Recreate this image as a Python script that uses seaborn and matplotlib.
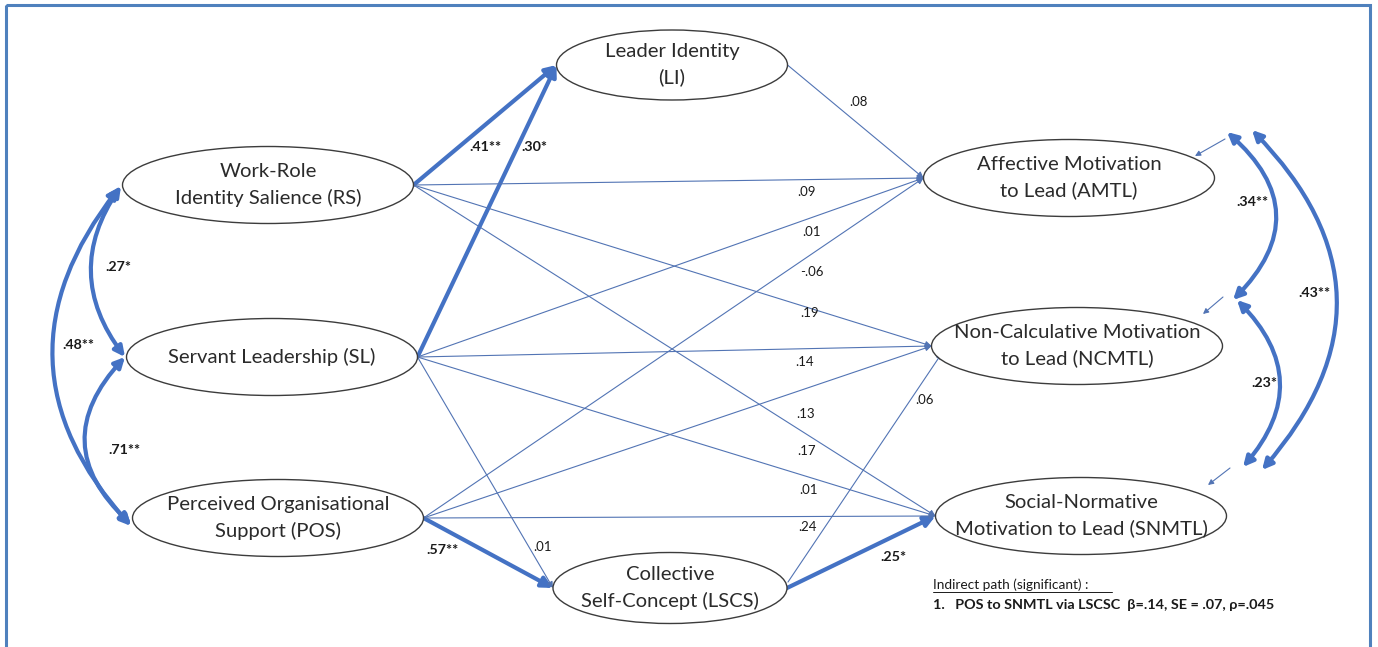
import matplotlib
matplotlib.use("Agg")
import matplotlib.pyplot as plt
from matplotlib.patches import Ellipse, FancyArrowPatch, Rectangle
import seaborn as sns

# model content
node_ids = ["RS", "SL", "POS", "LI", "LSCS", "AMTL", "NCMTL", "SNMTL"]
node_text = [
    "Work-Role\nIdentity Salience (RS)",
    "Servant Leadership (SL)",
    "Perceived Organisational\nSupport (POS)",
    "Leader Identity\n(LI)",
    "Collective\nSelf-Concept (LSCS)",
    "Affective Motivation\nto Lead (AMTL)",
    "Non-Calculative Motivation\nto Lead (NCMTL)",
    "Social-Normative\nMotivation to Lead (SNMTL)",
]

path_src = ["RS", "SL", "POS", "LSCS", "LI", "RS", "SL", "POS",
            "RS", "SL", "POS", "RS", "SL", "POS", "LSCS", "SL"]
path_dst = ["LI", "LI", "LSCS", "SNMTL", "AMTL", "AMTL", "AMTL", "AMTL",
            "NCMTL", "NCMTL", "NCMTL", "SNMTL", "SNMTL", "SNMTL", "NCMTL", "LSCS"]
path_coef = [".41**", ".30*", ".57**", ".25*", ".08", ".09", ".01", "-.06",
             ".19", ".14", ".13", ".17", ".01", ".24", ".06", ".01"]

cov_a = ["RS", "SL", "RS", "AMTL", "NCMTL", "AMTL"]
cov_b = ["SL", "POS", "POS", "NCMTL", "SNMTL", "SNMTL"]
cov_coef = [".27*", ".71**", ".48**", ".34**", ".23*", ".43**"]

note_title = "Indirect path (significant) :"
note_line = "1.   POS to SNMTL via LSCSC  β=.14, SE = .07, ρ=.045"

# layout (pixel space, y down)
node_pos = {"RS": (268, 185), "SL": (272, 357), "POS": (278, 518),
            "LI": (672, 65), "LSCS": (670, 588),
            "AMTL": (1069, 178), "NCMTL": (1077, 346), "SNMTL": (1081, 516)}
node_w = {"LI": 231, "LSCS": 234}
node_h = {"LI": 70, "LSCS": 71}
end_fix = {("LSCS", "NCMTL"): ((788, 582), (942, 353))}

coef_xy = [(485, 147), (534, 147), (443, 550), (893, 557), (858, 102),
           (807, 192), (812, 232), (812, 272), (810, 313), (805, 362),
           (806, 414), (807, 451), (809, 490), (808, 527), (925, 400), (543, 547)]

cov_ends = [((121, 186), (125, 357)), ((125, 357), (131, 524)), ((119, 188), (131, 526)),
            ((1227, 132), (1233, 300)), ((1237, 300), (1243, 467)), ((1252, 130), (1262, 470))]
cov_rad = [0.36, 0.5, 0.42, -0.53, -0.46, -0.46]
cov_xy = [(118, 267), (124, 450), (78, 345), (1252, 202), (1264, 383), (1314, 293)]

resid = [((1225, 139), (1195, 156)), ((1223, 297), (1203, 314)), ((1230, 468), (1208, 485))]

BLUE = "#4472c4"
THIN = "#5274b4"
EDGE = "#3c3c3c"

sns.set_theme(style="white")
plt.rcParams["font.family"] = ["Lato", "DejaVu Sans"]

fig = plt.figure(figsize=(13.78, 6.47), dpi=100)
ax = fig.add_axes([0, 0, 1, 1])
ax.set_xlim(0, 1378)
ax.set_ylim(647, 0)
ax.axis("off")

ax.add_patch(Rectangle((6, 5), 1364, 660, fill=False, ec="#4f81bd", lw=2.2))


def ends(nid):
    x, y = node_pos[nid]
    w = node_w.get(nid, 291)
    return (x - w / 2, y), (x + w / 2, y)


for nid, txt in zip(node_ids, node_text):
    x, y = node_pos[nid]
    ax.add_patch(Ellipse((x, y), node_w.get(nid, 291), node_h.get(nid, 77),
                         fc="white", ec=EDGE, lw=1.0, zorder=3))
    ax.text(x, y, txt, ha="center", va="center", fontsize=14.6,
            color="#2b2b2b", linespacing=1.55, zorder=4)

for i, (s, d, c) in enumerate(zip(path_src, path_dst, path_coef)):
    a = ends(s)[1]
    b = ends(d)[0]
    if (s, d) in end_fix:
        a, b = end_fix[(s, d)]
    strong = "*" in c
    ax.add_patch(FancyArrowPatch(a, b, arrowstyle="-|>",
                                 mutation_scale=16 if strong else 9,
                                 lw=3.0 if strong else 0.8,
                                 color=BLUE if strong else THIN,
                                 shrinkA=0, shrinkB=0, zorder=2))
    ax.text(*coef_xy[i], c, ha="center", va="center",
            fontsize=10.3 if strong else 9.5,
            fontweight="bold" if strong else "normal", color="#1a1a1a", zorder=5)

for (a, b), r, c, xy in zip(cov_ends, cov_rad, cov_coef, cov_xy):
    ax.add_patch(FancyArrowPatch(a, b, arrowstyle="<|-|>", mutation_scale=15,
                                 connectionstyle=f"arc3,rad={r}",
                                 lw=3.0, color=BLUE, shrinkA=0, shrinkB=0, zorder=2))
    ax.text(*xy, c, ha="center", va="center", fontsize=10.3,
            fontweight="bold", color="#1a1a1a", zorder=5)

for a, b in resid:
    ax.add_patch(FancyArrowPatch(a, b, arrowstyle="-|>", mutation_scale=8,
                                 lw=0.8, color=THIN, shrinkA=0, shrinkB=0, zorder=2))

ax.text(933, 585, note_title, fontsize=9.8, color="#1a1a1a", va="center")
ax.plot([933, 1112], [592, 592], color="#1a1a1a", lw=0.7)
ax.text(933, 605, note_line, fontsize=10.4, fontweight="bold",
        color="#1a1a1a", va="center")

fig.savefig("out.png", dpi=100, facecolor="white")
